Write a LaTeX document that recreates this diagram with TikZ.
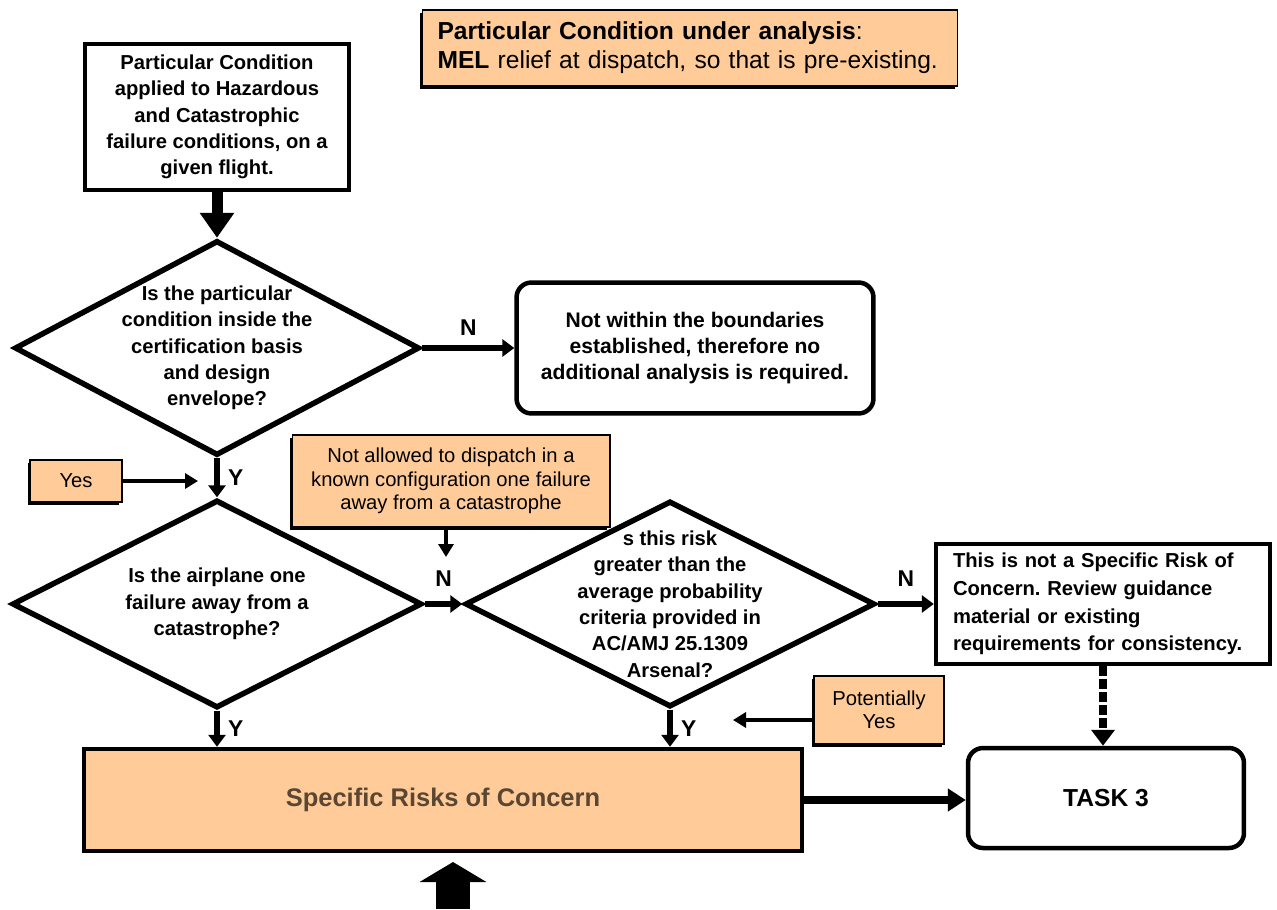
\documentclass[tikz,border=0pt]{standalone}
\usepackage{fontspec}
\setmainfont{Liberation Sans}
\usetikzlibrary{shapes.geometric,arrows.meta,shadows}
\definecolor{notefill}{HTML}{FFCC99}
\definecolor{risktext}{HTML}{5A4632}
\frenchspacing

\tikzset{
	blockbox/.style={draw, line width=0.09cm, fill=white, align=center, inner sep=0pt,
		font=\bfseries\fontsize{11.5}{15}\selectfont},
	roundbox/.style={blockbox, rounded corners=0.3cm},
	decision/.style={draw, diamond, line width=0.11cm, inner sep=0pt},
	qtext/.style={align=center, inner sep=0pt, font=\bfseries\fontsize{11.5}{15}\selectfont},
	note/.style={draw, fill=notefill, line width=0.6pt, inner sep=0pt, align=center,
		drop shadow={shadow xshift=-0.05cm, shadow yshift=-0.06cm, fill=black, opacity=1},
		font=\fontsize{11.5}{13.3}\selectfont},
	tag/.style={font=\bfseries\fontsize{13}{13}\selectfont},
	flow/.style={line width=0.13cm, -{Triangle[length=0.24cm,width=0.34cm]}},
	hint/.style={line width=0.09cm, -{Triangle[length=0.26cm,width=0.3cm]}}
}

\begin{document}
\begin{tikzpicture}[x=0.02cm,y=-0.02cm]
	\useasboundingbox (0,0) rectangle (1277,909);

	% boxes and notes
	\node[blockbox, minimum width=5.28cm, minimum height=2.92cm] (cond) at (217,117)
		{Particular Condition\\applied to Hazardous\\and Catastrophic\\failure conditions, on a\\given flight.};
	\node[note, minimum width=10.72cm, minimum height=1.52cm, text width=10.1cm, align=left,
		font=\fontsize{14}{16.5}\selectfont] (analysis) at (690,48)
		{\textbf{Particular Condition under analysis}:\\\textbf{MEL} relief at dispatch, so that is pre-existing.};

	\node[decision, minimum width=8.1cm, minimum height=4.3cm] (q1) at (217,348) {};
	\node[qtext] (q1txt) at (q1) {Is the particular\\condition inside the\\certification basis\\and design\\envelope?};

	\node[roundbox, minimum width=7.14cm, minimum height=2.62cm,
		font=\bfseries\fontsize{12}{15}\selectfont] (nobound) at (695,348)
		{Not within the boundaries\\established, therefore no\\additional analysis is required.};

	\node[note, minimum width=1.84cm, minimum height=0.84cm] (yes) at (76,481) {Yes};
	\node[note, minimum width=6.36cm, minimum height=1.84cm] (notallow) at (451,481)
		{Not allowed to dispatch in a\\known configuration one failure\\away from a catastrophe};

	\node[decision, minimum width=8.2cm, minimum height=4.16cm] (q2) at (217,604) {};
	\node[qtext] (q2txt) at (q2) {Is the airplane one\\failure away from a\\catastrophe?};

	\node[decision, minimum width=8.2cm, minimum height=4.12cm] (q3) at (670,604) {};
	\node[qtext] (q3txt) at (q3) {s this risk\\greater than the\\average probability\\criteria provided in\\AC/AMJ 25.1309\\Arsenal?};

	\node[blockbox, minimum width=6.68cm, minimum height=2.4cm, text width=6.0cm, align=left,
		font=\bfseries\fontsize{11.5}{15.8}\selectfont] (notsrc) at (1103,604)
		{This is not a Specific Risk of\\Concern. Review guidance\\material or existing\\requirements for consistency.};

	\node[note, minimum width=2.6cm, minimum height=1.36cm] (potyes) at (879,710) {Potentially\\Yes};

	\node[blockbox, fill=notefill, text=risktext, minimum width=14.36cm, minimum height=2.04cm,
		font=\bfseries\fontsize{14.5}{16}\selectfont] (risks) at (443,800) {Specific Risks of Concern};
	\node[roundbox, minimum width=5.52cm, minimum height=2cm,
		font=\bfseries\fontsize{14}{16}\selectfont] (task3) at (1106,798) {TASK 3};

	% free ends
	\coordinate (yin) at (198,481);
	\coordinate (nin) at (446,557);
	\coordinate (pin) at (733,720);
	\coordinate (feed) at (453,909);
	\coordinate (feedtip) at (453,862);

	% connectors
	\draw[line width=0.22cm, -{Triangle[length=0.5cm,width=0.66cm]}] (cond.south) -- (q1.north);
	\draw[flow] (q1.east) -- node[tag, above=0.06cm] (n1) {N} (nobound.west);
	\draw[flow] (q1.south) -- node[tag, right=0.04cm] (y1) {Y} (q2.north);
	\draw[hint] (yes.east) -- (yin);
	\draw[hint] (notallow.south -| nin) -- (nin);
	\draw[flow] (q2.east) -- node[tag, above=0.16cm] (n2) {N} (q3.west);
	\draw[flow] (q3.east) -- node[tag, above=0.16cm] (n3) {N} (notsrc.west);
	\draw[line width=0.16cm, dash pattern=on 0.2cm off 0.06cm,
		-{Triangle[length=0.32cm,width=0.46cm]}] (notsrc.south) -- (notsrc.south |- task3.north);
	\draw[flow] (q2.south) -- node[tag, right=0.04cm] (y2) {Y} (q2.south |- risks.north);
	\draw[flow] (q3.south) -- node[tag, right=0.04cm] (y3) {Y} (q3.south |- risks.north);
	\draw[hint] (potyes.west |- pin) -- (pin);
	\draw[line width=0.15cm, -{Triangle[length=0.36cm,width=0.44cm]}] (risks.east) -- (risks.east -| task3.west);
	\draw[line width=0.68cm, -{Triangle[length=0.4cm,width=1.32cm]}] (feed) -- (feedtip);
\end{tikzpicture}
\end{document}
